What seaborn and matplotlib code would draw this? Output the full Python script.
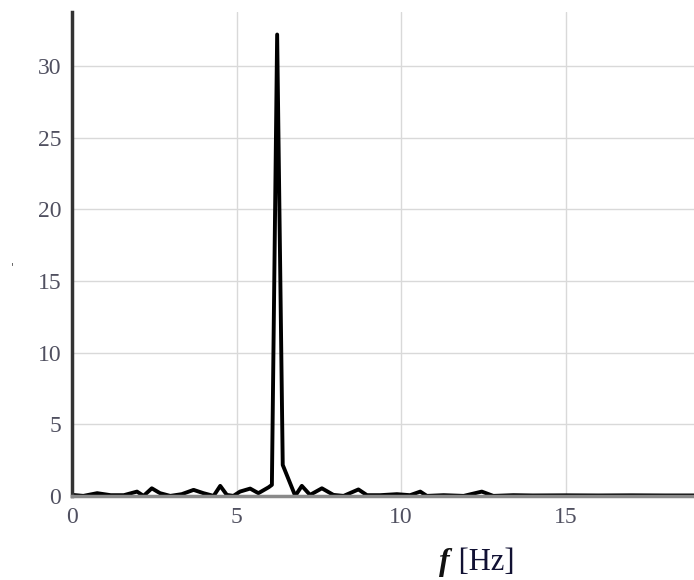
import matplotlib
matplotlib.use("Agg")
import matplotlib.pyplot as plt
import seaborn as sns
import pandas as pd

freq = [0.0, 0.34, 0.76, 1.17, 1.57, 1.97, 2.17, 2.42, 2.67, 2.98, 3.33, 3.69, 3.99,
        4.30, 4.50, 4.70, 4.90, 5.10, 5.41, 5.66, 5.97, 6.07, 6.23, 6.40, 6.78,
        6.98, 7.23, 7.59, 7.94, 8.25, 8.70, 8.96, 9.36, 9.87, 10.27, 10.58, 10.78,
        11.29, 11.90, 12.45, 12.80, 13.41, 14.0, 15.0, 16.0, 17.0, 18.0, 19.0]
amp = [0.07, 0.0, 0.19, 0.05, 0.05, 0.30, 0.0, 0.53, 0.19, 0.0, 0.12, 0.42, 0.19,
       0.0, 0.70, 0.07, 0.0, 0.30, 0.51, 0.19, 0.60, 0.77, 32.2, 2.16, 0.0,
       0.70, 0.07, 0.53, 0.07, 0.0, 0.45, 0.05, 0.05, 0.12, 0.05, 0.30, 0.0,
       0.05, 0.0, 0.30, 0.0, 0.05, 0.03, 0.04, 0.03, 0.04, 0.03, 0.03]
xticks = [0, 5, 10, 15]
yticks = [0, 5, 10, 15, 20, 25, 30]

df = pd.DataFrame({"f": freq, "A": amp})

sns.set_style("white")
fig = plt.figure(figsize=(6.94, 5.80), dpi=100)
ax = fig.add_axes([0.104, 0.145, 0.896, 0.835])

sns.lineplot(data=df, x="f", y="A", ax=ax, color="black", linewidth=2.8)
for ln in ax.lines:
    ln.set_solid_joinstyle("round")
    ln.set_solid_capstyle("round")

ax.set_xlim(0, 18.9)
ax.set_ylim(0, 33.8)
ax.set_xticks(xticks)
ax.set_yticks(yticks)
ax.grid(True, color="#d9d9d9", linewidth=1.0)
ax.set_axisbelow(True)

for s in ["top", "right"]:
    ax.spines[s].set_visible(False)
ax.spines["left"].set_color("#333333")
ax.spines["left"].set_linewidth(2.5)
ax.spines["bottom"].set_color("#8a8a8a")
ax.spines["bottom"].set_linewidth(2.5)

ax.tick_params(axis="both", length=0, labelsize=17, labelcolor="#505060", pad=8)
for lab in ax.get_xticklabels() + ax.get_yticklabels():
    lab.set_fontfamily("Liberation Serif")

ax.set_xlabel("")
ax.set_ylabel("")
fig.text(0.648, 0.005, "f", fontsize=23, ha="right", va="bottom",
         family="Liberation Serif", style="italic", weight="bold", color="#111111")
fig.text(0.65, 0.005, " [Hz]", fontsize=22, ha="left", va="bottom",
         family="Liberation Serif", color="#111133")
fig.text(0.015, 0.535, "'", fontsize=8, color="#555555")

fig.savefig("out.png", dpi=100)
